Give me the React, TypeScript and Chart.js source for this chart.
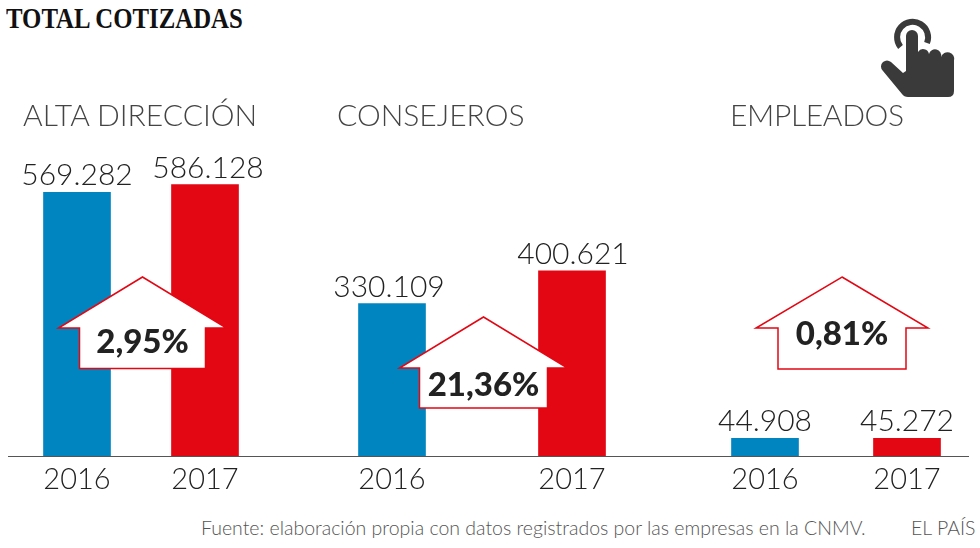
import React, { useEffect, useRef } from "react";
import { Chart, registerables } from "chart.js";

Chart.register(...registerables);

const categories = ["2016", "2017"];
const groupNames = ["ALTA DIRECCIÓN", "CONSEJEROS", "EMPLEADOS"];
const altaDireccion = [569282, 586128];
const consejeros = [330109, 400621];
const empleados = [44908, 45272];
const changes = ["2,95%", "21,36%", "0,81%"];
const title = "TOTAL COTIZADAS";
const source = "Fuente: elaboración propia con datos registrados por las empresas en la CNMV.";
const credit = "EL PAÍS";

const BLUE = "#0085C1";
const RED = "#E30613";
const SANS = "Lato, sans-serif";
const fmt = (v: number) => String(v).replace(/\B(?=(\d{3})+$)/g, ".");

const CANVAS_TOP = 100;

type Arrow = { cx: number; top: number; wing: number; half: number; shoulder: number; bottom: number; textY: number };

function makeChart(canvas: HTMLCanvasElement, values: number[], label: string, arrow: Arrow, left: number, yMax: number, labelDx: number[]) {
  const deco = {
    id: "deco",
    afterDatasetsDraw(c: any) {
      const x = c.ctx;
      const meta = c.getDatasetMeta(0);
      x.save();
      x.fillStyle = "#222";
      x.font = `300 30px ${SANS}`;
      x.textAlign = "center";
      x.textBaseline = "alphabetic";
      meta.data.forEach((b: any, i: number) => x.fillText(fmt(values[i]), b.x + labelDx[i], b.y - 7));
      const a = arrow;
      const cx = a.cx - left;
      const dy = -CANVAS_TOP;
      x.beginPath();
      x.moveTo(cx, a.top + dy);
      x.lineTo(cx + a.wing, a.shoulder + dy);
      x.lineTo(cx + a.half, a.shoulder + dy);
      x.lineTo(cx + a.half, a.bottom + dy);
      x.lineTo(cx - a.half, a.bottom + dy);
      x.lineTo(cx - a.half, a.shoulder + dy);
      x.lineTo(cx - a.wing, a.shoulder + dy);
      x.closePath();
      x.fillStyle = "#fff";
      x.fill();
      x.strokeStyle = RED;
      x.lineWidth = 1.5;
      x.stroke();
      x.fillStyle = "#222";
      x.font = `900 33px ${SANS}`;
      x.fillText(label, cx, a.textY + dy);
      x.restore();
    },
  };
  return new Chart(canvas, {
    type: "bar",
    data: {
      labels: categories,
      datasets: [{ data: values, backgroundColor: [BLUE, RED], barThickness: 67 }],
    },
    options: {
      animation: false,
      responsive: false,
      maintainAspectRatio: false,
      layout: { padding: 0 },
      plugins: { legend: { display: false }, tooltip: { enabled: false } },
      scales: {
        x: {
          grid: { display: false },
          border: { display: false },
          afterFit: (axis: any) => { axis.height = 43; },
          ticks: { color: "#222", font: { family: SANS, size: 29, weight: "300" }, padding: -3, maxRotation: 0 },
        },
        y: { display: false, min: 0, max: yMax },
      },
    },
    plugins: [deco],
  });
}

const panels = [
  { values: altaDireccion, left: 13, width: 256, yMax: 768000, labelDx: [0, 3], arrow: { cx: 142.5, top: 277, wing: 84, half: 63, shoulder: 328, bottom: 368.5, textY: 353 } },
  { values: consejeros, left: 302, width: 360, yMax: 768000, labelDx: [-3, 1], arrow: { cx: 483.5, top: 317, wing: 84, half: 64, shoulder: 368, bottom: 408, textY: 396 } },
  { values: empleados, left: 694, width: 284, yMax: 860000, labelDx: [0, 0], arrow: { cx: 842, top: 277, wing: 86, half: 64, shoulder: 328, bottom: 369, textY: 345 } },
];
const headingX = [23, 337, 730];
const headingSpacing = [0, 0, -0.35];

export default function App() {
  const refs = [useRef<HTMLCanvasElement>(null), useRef<HTMLCanvasElement>(null), useRef<HTMLCanvasElement>(null)];
  useEffect(() => {
    const charts = panels.map((p, i) => makeChart(refs[i].current!, p.values, changes[i], p.arrow, p.left, p.yMax, p.labelDx));
    return () => charts.forEach((c) => c.destroy());
  }, []);
  return (
    <div style={{ position: "absolute", left: 0, top: 0, width: 980, height: 548, background: "#fff", overflow: "hidden" }}>
      {panels.map((p, i) => (
        <canvas key={i} ref={refs[i]} width={p.width} height={400} style={{ position: "absolute", left: p.left, top: CANVAS_TOP, width: p.width, height: 400 }} />
      ))}
      <div style={{ position: "absolute", left: 6, top: 2, font: "bold 29px 'Liberation Serif', serif", color: "#111", whiteSpace: "nowrap", transform: "scaleX(0.855)", transformOrigin: "left top" }}>{title}</div>
      {groupNames.map((g, i) => (
        <div key={g} style={{ position: "absolute", left: headingX[i], top: 96, font: `300 30px ${SANS}`, letterSpacing: headingSpacing[i], color: "#444", whiteSpace: "nowrap" }}>{g}</div>
      ))}
      <div style={{ position: "absolute", left: 8, top: 456, width: 961, height: 1, background: "#555" }} />
      <div style={{ position: "absolute", left: 201, top: 516, font: `300 19.5px ${SANS}`, color: "#555", whiteSpace: "nowrap" }}>{source}</div>
      <div style={{ position: "absolute", left: 911, top: 516, font: `300 19.5px ${SANS}`, color: "#555", whiteSpace: "nowrap" }}>{credit}</div>
      <svg width={980} height={548} style={{ position: "absolute", left: 0, top: 0, pointerEvents: "none" }}>
        <path d="M900.5 47 A15.5 15.5 0 1 1 927 43" fill="none" stroke="#3a3a3a" strokeWidth={6} />
        <path
          d="M906 36 A6 6 0 0 1 918 36 L918 52 A6 6 0 0 1 929 54 A6 6 0 0 1 941 57 A6 6 0 0 1 954 61 L954 91 Q954 97 948 97 L908 97 Q904 97 902 94 L883 71 A6 6 0 0 1 883 62 Q887 59 891 62 L903 73 L906 71 Z"
          fill="#3a3a3a"
        />
      </svg>
    </div>
  );
}
